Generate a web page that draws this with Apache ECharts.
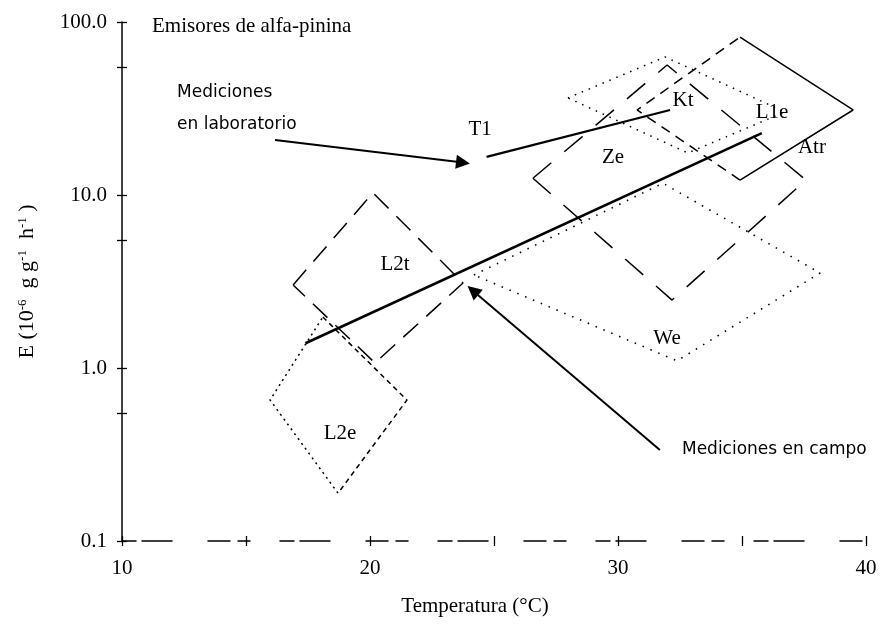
<!DOCTYPE html>
<html><head><meta charset="utf-8">
<script src="https://cdn.jsdelivr.net/npm/echarts@6/dist/echarts.min.js"></script>
<style>html,body{margin:0;padding:0;background:#fff}#c{width:892px;height:625px}</style>
</head><body><div id="c"></div>
<script>
// ---- axis ticks ----
const xTicks = [10, 15, 20, 25, 30, 35, 40];
const yTicks = [0.1, 1, 10, 100];

// ---- field regression line (Mediciones en campo) ----
const fieldT = [17.4, 35.8];
const fieldE = [1.39, 22.8];
// ---- laboratory line T1 ----
const t1T = [24.7, 32.1];
const t1E = [16.6, 31.0];

// ---- ranges: vertices left, top, right, bottom ----
const l2eT = [15.97, 18.10, 21.49, 18.71];
const l2eE = [0.653, 1.97, 0.653, 0.189];
const l2tT = [16.90, 20.12, 23.75, 20.20];
const l2tE = [3.02, 10.3, 3.10, 1.07];
const zeT = [26.57, 31.98, 37.58, 32.18];
const zeE = [12.5, 56.4, 12.2, 2.47];
const ktT = [27.98, 31.90, 36.73, 32.82];
const ktE = [36.4, 62.8, 30.2, 17.5];
const atrT = [30.77, 34.92, 39.48, 34.92];
const atrE = [31.0, 81.8, 31.0, 12.2];
const weT = [24.19, 31.81, 38.15, 32.38];
const weE = [3.45, 11.7, 3.54, 1.10];

// ---- annotation arrows: start -> tip ----
const labArrowT = [16.17, 23.75];
const labArrowE = [20.8, 15.4];
const fieldArrowT = [31.69, 24.15];
const fieldArrowE = [0.336, 2.80];

// ---- labels ----
const regionLabels = ['T1', 'Kt', 'L1e', 'Atr', 'Ze', 'L2t', 'L2e', 'We'];
const regionLabelT = [24.44, 32.62, 36.21, 37.82, 29.80, 21.01, 18.79, 31.98];
const regionLabelE = [23.8, 35.4, 29.8, 18.7, 16.4, 3.94, 0.421, 1.49];
const noteLabels = ['Mediciones\nen laboratorio', 'Mediciones en campo'];
const noteT = [12.22, 32.58];
const noteE = [31.5, 0.336];

const SERIF = 'Liberation Serif';
const SANS = 'DejaVu Sans';

function pts(T, E, order) { return order.map(i => [T[i], E[i]]); }
function path(data, type, width, z) {
  return { type: 'line', data: data, symbol: 'none', showSymbol: false, silent: true,
    xAxisIndex: 0, yAxisIndex: 0, z: z || 3,
    lineStyle: { color: '#000', width: width, type: type } };
}
const closed = [0, 1, 2, 3, 0];

const series = [
  path(pts(fieldT, fieldE, [0, 1]), 'solid', 2.6, 5),
  path(pts(t1T, t1E, [0, 1]), 'solid', 2.2, 5),
  path(pts(l2eT, l2eE, [3, 0, 1]), [2, 4], 1.5),
  path(pts(l2eT, l2eE, [1, 2, 3]), [5, 4], 1.5),
  path(pts(l2tT, l2tE, closed), [20, 11], 1.5),
  path(pts(zeT, zeE, closed), [24, 17], 1.5),
  path(pts(ktT, ktE, closed), [1.5, 6], 1.5),
  path(pts(atrT, atrE, [1, 2, 3]), 'solid', 1.5),
  path(pts(atrT, atrE, [3, 0, 1]), [10, 7], 1.5),
  path(pts(weT, weE, closed), [1.5, 7], 1.6),
  {
    type: 'lines', coordinateSystem: 'cartesian2d', xAxisIndex: 0, yAxisIndex: 0, z: 6,
    symbol: ['none', 'triangle'], symbolSize: 14, silent: true,
    lineStyle: { color: '#000', width: 2, opacity: 1, curveness: 0 },
    data: [
      { coords: pts(labArrowT, labArrowE, [0, 1]) },
      { coords: pts(fieldArrowT, fieldArrowE, [0, 1]) }
    ]
  },
  {
    type: 'scatter', xAxisIndex: 0, yAxisIndex: 0, symbolSize: 0, silent: true, z: 7,
    itemStyle: { opacity: 1, color: '#000' },
    data: regionLabels.map((s, i) => ({ value: [regionLabelT[i], regionLabelE[i]], name: s })),
    label: { show: true, position: 'inside', formatter: p => p.name, opacity: 1,
      fontFamily: SERIF, fontSize: 21, color: '#000', textBorderWidth: 0 }
  },
  {
    type: 'scatter', xAxisIndex: 0, yAxisIndex: 0, symbolSize: 0, silent: true, z: 7,
    itemStyle: { opacity: 1, color: '#000' },
    data: noteLabels.map((s, i) => ({ value: [noteT[i], noteE[i]], name: s })),
    label: { show: true, position: 'right', distance: 0, formatter: p => p.name, opacity: 1,
      fontFamily: SANS, fontSize: 17, lineHeight: 32, color: '#000', textBorderWidth: 0, align: 'left' }
  }
];

const axisFont = { fontFamily: SERIF, fontSize: 21, color: '#000' };
const chart = echarts.init(document.getElementById('c'), null, { renderer: 'canvas' });
chart.setOption({
  animation: false,
  backgroundColor: '#fff',
  title: { text: 'Emisores de alfa-pinina', left: 147, top: 11,
    textStyle: { fontFamily: SERIF, fontSize: 21, fontWeight: 'normal', color: '#000' } },
  grid: { left: 122, right: 26, top: 22, bottom: 84 },
  xAxis: [{
    type: 'value', min: xTicks[0], max: xTicks[xTicks.length - 1], interval: xTicks[1] - xTicks[0],
    position: 'bottom',
    axisLine: { show: true, lineStyle: { color: '#000', width: 1.5, type: [14, 6, 30, 36, 22, 8, 12, 30] } },
    axisTick: { show: true, length: 5, lineStyle: { color: '#000', width: 1.3 } },
    axisLabel: { ...axisFont, margin: 17, formatter: v => (v % 10 === 0 ? String(v) : '') },
    splitLine: { show: false },
    name: 'Temperatura (°C)', nameLocation: 'middle', nameGap: 55,
    nameTextStyle: { ...axisFont, padding: [0, 38, 0, 0] }
  }, {
    type: 'value', min: xTicks[0], max: xTicks[xTicks.length - 1], interval: xTicks[1] - xTicks[0],
    position: 'bottom', offset: 0,
    axisLine: { show: false },
    axisTick: { show: true, inside: true, length: 5, lineStyle: { color: '#000', width: 1.3 } },
    axisLabel: { show: false }, splitLine: { show: false }
  }],
  yAxis: [{
    type: 'log', logBase: 10, min: yTicks[0], max: yTicks[yTicks.length - 1], position: 'left',
    axisLine: { show: true, lineStyle: { color: '#000', width: 1.5 } },
    axisTick: { show: true, length: 5, lineStyle: { color: '#000', width: 1.3 } },
    minorTick: { show: true, splitNumber: 2, length: 5, lineStyle: { color: '#000', width: 1.3 } },
    axisLabel: { ...axisFont, margin: 15, formatter: v => Number(v).toFixed(1) },
    splitLine: { show: false }, minorSplitLine: { show: false },
    name: 'E (10{s|-6}  g g{s|-1}  h{s|-1} )', nameLocation: 'middle', nameGap: 84, nameRotate: 90,
    nameTextStyle: { ...axisFont, fontSize: 22,
      rich: { s: { fontFamily: SERIF, fontSize: 13, color: '#000', verticalAlign: 'top', lineHeight: 22 } } }
  }, {
    type: 'log', logBase: 10, min: yTicks[0], max: yTicks[yTicks.length - 1], position: 'left', offset: 0,
    axisLine: { show: false },
    axisTick: { show: true, inside: true, length: 5, lineStyle: { color: '#000', width: 1.3 } },
    minorTick: { show: true, splitNumber: 2, length: 5, lineStyle: { color: '#000', width: 1.3 } },
    axisLabel: { show: false }, splitLine: { show: false }, minorSplitLine: { show: false }
  }],
  series: series
});
</script>
</body></html>
